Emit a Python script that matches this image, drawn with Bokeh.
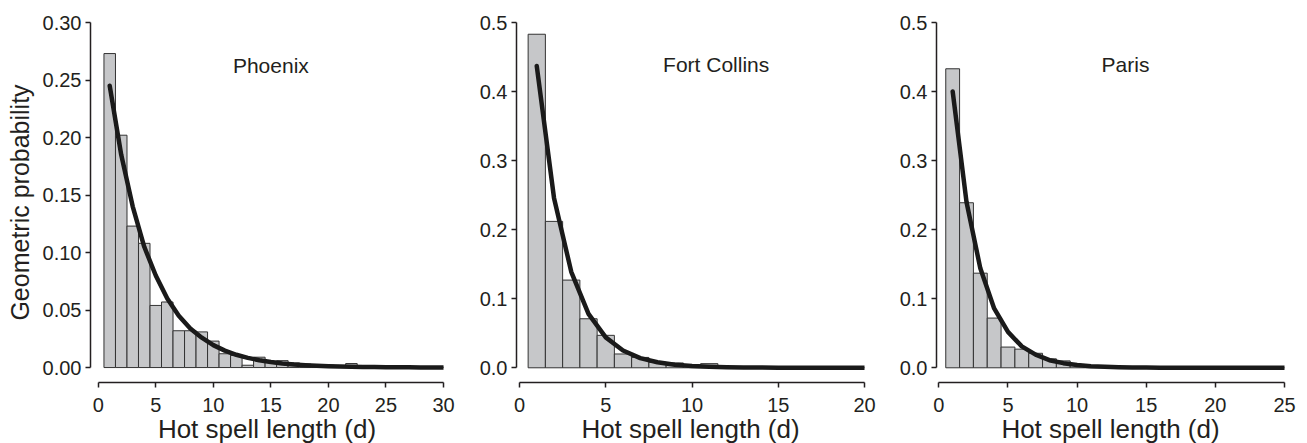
from bokeh.plotting import figure
from bokeh.layouts import row
from bokeh.models import Range1d, FixedTicker, PrintfTickFormatter, Label
from bokeh.embed import file_html
from bokeh.resources import INLINE

# ---------------- data ----------------
cities = ["Phoenix", "Fort Collins", "Paris"]

phoenix_len = list(range(1, 31))
phoenix_obs = [0.273, 0.202, 0.123, 0.108, 0.054, 0.057, 0.032, 0.032, 0.031, 0.023,
               0.012, 0.0105, 0.002, 0.009, 0.0055, 0.006, 0.004, 0.003, 0.002, 0.002,
               0.001, 0.0035, 0.001, 0.001, 0.0005, 0.001, 0.0005, 0.0005, 0.0003, 0.0005]
phoenix_fit = [0.245, 0.185, 0.140, 0.105, 0.080, 0.060, 0.045, 0.034, 0.026, 0.0195,
               0.0147, 0.0111, 0.0084, 0.0064, 0.0048, 0.0036, 0.0027, 0.0021, 0.0016, 0.0012,
               0.0009, 0.0007, 0.0005, 0.0004, 0.0003, 0.0002, 0.0002, 0.0001, 0.0001, 0.0001]

fc_len = list(range(1, 21))
fc_obs = [0.483, 0.212, 0.127, 0.071, 0.047, 0.020, 0.015, 0.008, 0.007, 0.004,
          0.006, 0.002, 0.001, 0.001, 0.0005, 0.0005, 0.0003, 0.0003, 0.0002, 0.0002]
fc_fit = [0.437, 0.246, 0.139, 0.078, 0.044, 0.025, 0.014, 0.008, 0.0044, 0.0025,
          0.0014, 0.0008, 0.0005, 0.0003, 0.0001, 0.0001, 0.0, 0.0, 0.0, 0.0]

paris_len = list(range(1, 26))
paris_obs = [0.433, 0.239, 0.137, 0.072, 0.030, 0.027, 0.021, 0.013, 0.010, 0.004,
             0.003, 0.002, 0.002, 0.001, 0.001, 0.0005, 0.0005, 0.0003, 0.0003, 0.0002,
             0.0002, 0.0001, 0.0001, 0.0001, 0.0001]
paris_fit = [0.400, 0.240, 0.144, 0.086, 0.052, 0.031, 0.019, 0.011, 0.0067, 0.0040,
             0.0024, 0.0015, 0.0009, 0.0005, 0.0003, 0.0002, 0.0001, 0.0001, 0.0, 0.0,
             0.0, 0.0, 0.0, 0.0, 0.0]

x_ticks = [[0, 5, 10, 15, 20, 25, 30], [0, 5, 10, 15, 20], [0, 5, 10, 15, 20, 25]]
y_ticks = [[0.0, 0.05, 0.10, 0.15, 0.20, 0.25, 0.30], [0.0, 0.1, 0.2, 0.3, 0.4, 0.5],
           [0.0, 0.1, 0.2, 0.3, 0.4, 0.5]]

FONT = "Liberation Sans"
TXT = "#231f20"
BAR_FILL = "#c6c7c9"
BAR_LINE = "#333333"
CURVE = "#1a1a1a"


def panel(name, lens, obs, fit, xt, yt, xr, yr, yfmt, label_xy,
          border_left, frame_w, border_right, ytitle=None):
    p = figure(output_backend="svg", toolbar_location=None,
               frame_width=frame_w, frame_height=360,
               min_border_left=border_left, min_border_right=border_right,
               min_border_top=22, min_border_bottom=56,
               x_range=Range1d(*xr), y_range=Range1d(*yr))
    p.outline_line_color = None
    p.grid.visible = False
    p.background_fill_color = "white"
    p.border_fill_color = "white"

    p.vbar(x=lens, width=1.0, top=obs, bottom=0,
           fill_color=BAR_FILL, line_color=BAR_LINE, line_width=1)
    p.line(lens, fit, line_color=CURVE, line_width=4.5, line_cap="round",
           line_join="round")

    for ax in (p.xaxis[0], p.yaxis[0]):
        ax.axis_line_color = TXT
        ax.axis_line_width = 1.5
        ax.major_tick_line_color = TXT
        ax.major_tick_line_width = 1.5
        ax.major_tick_in = 0
        ax.major_tick_out = 5
        ax.minor_tick_line_color = None
        ax.major_label_text_font = FONT
        ax.major_label_text_font_size = "20px"
        ax.major_label_text_color = TXT
        ax.axis_label_text_font = FONT
        ax.axis_label_text_font_style = "normal"
        ax.axis_label_text_color = TXT

    p.xaxis.axis_label_text_font_size = "26px"
    p.yaxis.axis_label_text_font_size = "25px"
    p.xaxis.ticker = FixedTicker(ticks=xt)
    p.yaxis.ticker = FixedTicker(ticks=yt)
    p.xaxis.bounds = (xt[0], xt[-1])
    p.yaxis.bounds = (yt[0], yt[-1])
    p.yaxis.formatter = PrintfTickFormatter(format=yfmt)
    p.xaxis.major_label_standoff = 10
    p.yaxis.major_label_standoff = 4
    p.xaxis.axis_label = "Hot spell length (d)"
    p.xaxis.axis_label_standoff = -1
    if ytitle:
        p.yaxis.axis_label = ytitle
        p.yaxis.axis_label_standoff = 6

    p.add_layout(Label(x=label_xy[0], y=label_xy[1], text=name,
                       text_align="center", text_baseline="alphabetic",
                       text_font=FONT, text_font_size="21px", text_color=TXT))
    return p


p1 = panel(cities[0], phoenix_len, phoenix_obs, phoenix_fit, x_ticks[0], y_ticks[0],
           (-0.67, 30), (-0.013, 0.30), "%.2f", (15.0, 0.263), 90, 353, 15,
           ytitle="Geometric probability")
p2 = panel(cities[1], fc_len, fc_obs, fc_fit, x_ticks[1], y_ticks[1],
           (-0.174, 20), (-0.0213, 0.5), "%.1f", (11.4, 0.4386), 58, 348, 15)
p3 = panel(cities[2], paris_len, paris_obs, paris_fit, x_ticks[2], y_ticks[2],
           (-0.17, 25), (-0.0213, 0.5), "%.1f", (13.5, 0.4386), 57, 348, 12)

layout = row(p1, p2, p3)
open("out.html", "w").write(file_html(layout, INLINE))
